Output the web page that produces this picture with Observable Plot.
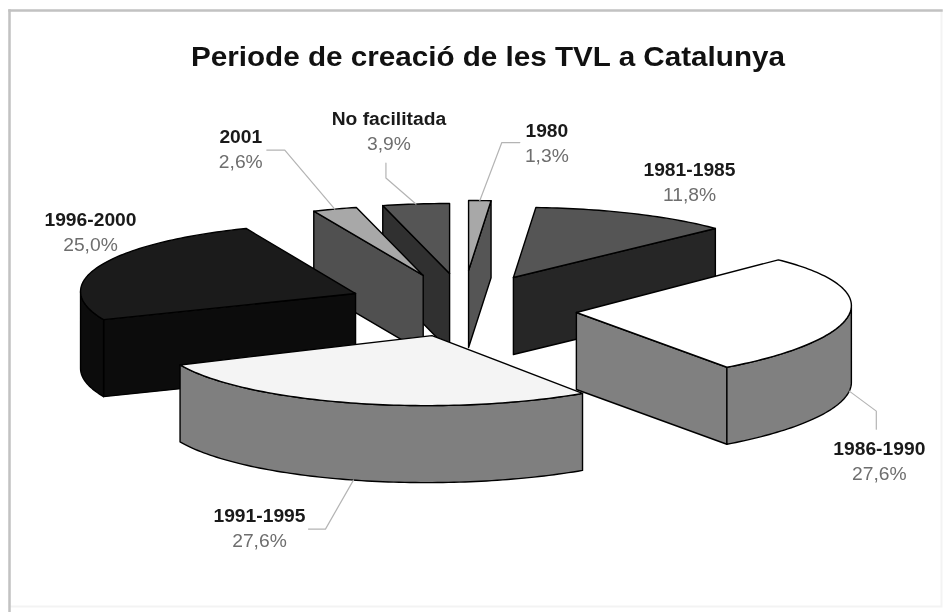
<!DOCTYPE html>
<html>
<head>
<meta charset="utf-8">
<style>html,body{margin:0;padding:0;background:#fff}svg{display:block;filter:blur(.6px)}</style>
<script src="https://cdn.jsdelivr.net/npm/d3@7"></script>
<script src="https://cdn.jsdelivr.net/npm/@observablehq/plot@0.6"></script>
</head>
<body>
<div id="chart"></div>
<script>
// Data
const title = "Periode de creació de les TVL a Catalunya";
const periods = ["1980","1981-1985","1986-1990","1991-1995","1996-2000","2001","No facilitada"];
const shares = [1.3,11.8,27.6,27.6,25.0,2.6,3.9];
const shareLabels = ["1,3%","11,8%","27,6%","27,6%","25,0%","2,6%","3,9%"];

// Styles per slice
const topColors  = ["#a8a8a8","#555555","#ffffff","#f4f4f4","#1b1b1b","#a8a8a8","#555555"];
const sideColors = ["#555555","#262626","#808080","#7f7f7f","#0c0c0c","#505050","#303030"];

// Layout: the x/y scales map a unit-radius pie onto the tilted ellipse
const W = 943, H = 612, pxX = 275, pxY = 70, cx = 470, cy = 305;
const depth = 1.1;
const explodeX = [-0.007,0.156,0.385,-0.14,-0.418,-0.172,-0.076];
const explodeY = [0.5,0.4,-0.1,-0.43,0.171,0.43,0.457];
const tilt = [0,0.03,0.1,0.02,-0.03,0,0];
const drawOrder = [1,0,6,5,4,2,3];
// px offsets from each slice's mid-arc point: leader elbow, leader end, label
const leaders = [
  [[22,-58],[40,-58]], null, [[27,20],[27,38]], [[-28,49],[-45,49]], null, [[-50,-59],[-68,-59]], [[-30,-26],[-30,-41]]
];
const labelPos = [[67,-69],null,[30,58],[-94,36],null,[-94,-72],[-27,-85]];
const fixedLabels = [null,[689,170],null,null,[90,220],null,null];

const total = d3.sum(shares);
const wx = v => (v - cx) / pxX, wy = v => (cy - v) / pxY;
let acc = 0;
const slices = periods.map((name, i) => {
  const a0 = acc / total * 2 * Math.PI; acc += shares[i];
  const a1 = acc / total * 2 * Math.PI;
  const ax = explodeX[i], ay = explodeY[i], k = tilt[i];
  const at = (a, z = 0) => ({x: ax + Math.sin(a), y: ay + Math.cos(a) + k * Math.sin(a) - z});
  const apex = (z = 0) => ({x: ax, y: ay - z});
  const arc = (s, e, z = 0) => {
    const n = Math.max(2, Math.ceil(Math.abs(e - s) / 0.02));
    return d3.range(n + 1).map(j => at(s + (e - s) * j / n, z));
  };
  return {name, i, a0, a1, at, apex, arc, mid: (a0 + a1) / 2};
});

const closed = pts => [...pts, pts[0]];
const faceMark = (pts, fill) => Plot.line(closed(pts), {
  x: "x", y: "y", fill, stroke: "#000", strokeWidth: 1.4, strokeLinejoin: "round"
});

const marks = [
  Plot.frame({stroke: "#f3f3f3", strokeWidth: 2, insetLeft: 9, insetTop: 10, insetRight: 2, insetBottom: 6}),
  Plot.frame({anchor: "left", stroke: "#c2c2c2", strokeWidth: 2.5, insetLeft: 9, insetTop: 10}),
  Plot.frame({anchor: "top", stroke: "#c2c2c2", strokeWidth: 2.5, insetLeft: 9, insetTop: 10, insetRight: 2})
];

for (const i of drawOrder) {
  const s = slices[i], side = sideColors[i], top = topColors[i];
  const q = Math.PI / 2;
  // radial faces turned toward the viewer
  for (const [a, normal] of [[s.a0, s.a0 - q], [s.a1, s.a1 + q]]) {
    if (Math.cos(normal) < 0) {
      marks.push(faceMark([s.apex(), s.at(a), s.at(a, depth), s.apex(depth)], side));
    }
  }
  // outer rim, visible part only
  const lo = Math.max(s.a0, q), hi = Math.min(s.a1, 3 * q);
  if (hi > lo) marks.push(faceMark([...s.arc(lo, hi), ...s.arc(lo, hi, depth).reverse()], side));
  // top
  marks.push(faceMark([s.apex(), ...s.arc(s.a0, s.a1)], top));
}

// Leader lines and labels, attached to the middle of each slice's arc
const lead = [], labels = [];
slices.forEach(s => {
  const front = Math.cos(s.mid) < 0;
  const p = s.at(s.mid, front ? depth : 0);
  const off = ([dx, dy]) => ({x: p.x + dx / pxX, y: p.y - dy / pxY});
  if (leaders[s.i]) lead.push(...[p, off(leaders[s.i][0]), off(leaders[s.i][1])].map(d => ({...d, id: s.i})));
  const l = labelPos[s.i] ? off(labelPos[s.i]) : {x: wx(fixedLabels[s.i][0]), y: wy(fixedLabels[s.i][1])};
  labels.push({...l, name: s.name, pct: shareLabels[s.i]});
});
marks.push(Plot.line(lead, {x: "x", y: "y", z: "id", stroke: "#b4b4b4", strokeWidth: 1.2}));
marks.push(Plot.text(labels, {x: "x", y: "y", text: "name", fontWeight: "bold", fontSize: 17.5, fill: "#1a1a1a", fontFamily: "Liberation Sans"}));
marks.push(Plot.text(labels, {x: "x", y: "y", text: "pct", dy: 25, fontSize: 17.5, fill: "#6e6e6e", fontFamily: "Liberation Sans"}));
marks.push(Plot.text([title], {frameAnchor: "top", dy: 46, dx: 16, fontWeight: "bold", fontSize: 27, fill: "#111", fontFamily: "Liberation Sans"}));

const chart = Plot.plot({
  width: W, height: H, margin: 0,
  x: {type: "linear", domain: [wx(0), wx(W)], range: [0, W], axis: null},
  y: {type: "linear", domain: [wy(0), wy(H)], range: [0, H], axis: null},
  style: {background: "#fff"},
  marks
});
document.getElementById("chart").append(chart);

// The reference's type is horizontally stretched
chart.querySelectorAll("text").forEach(t => {
  const isTitle = t.textContent === title;
  t.setAttribute("textLength", (isTitle ? 594 : t.getComputedTextLength() * 1.1).toFixed(1));
  t.setAttribute("lengthAdjust", "spacingAndGlyphs");
});
</script>
</body>
</html>
